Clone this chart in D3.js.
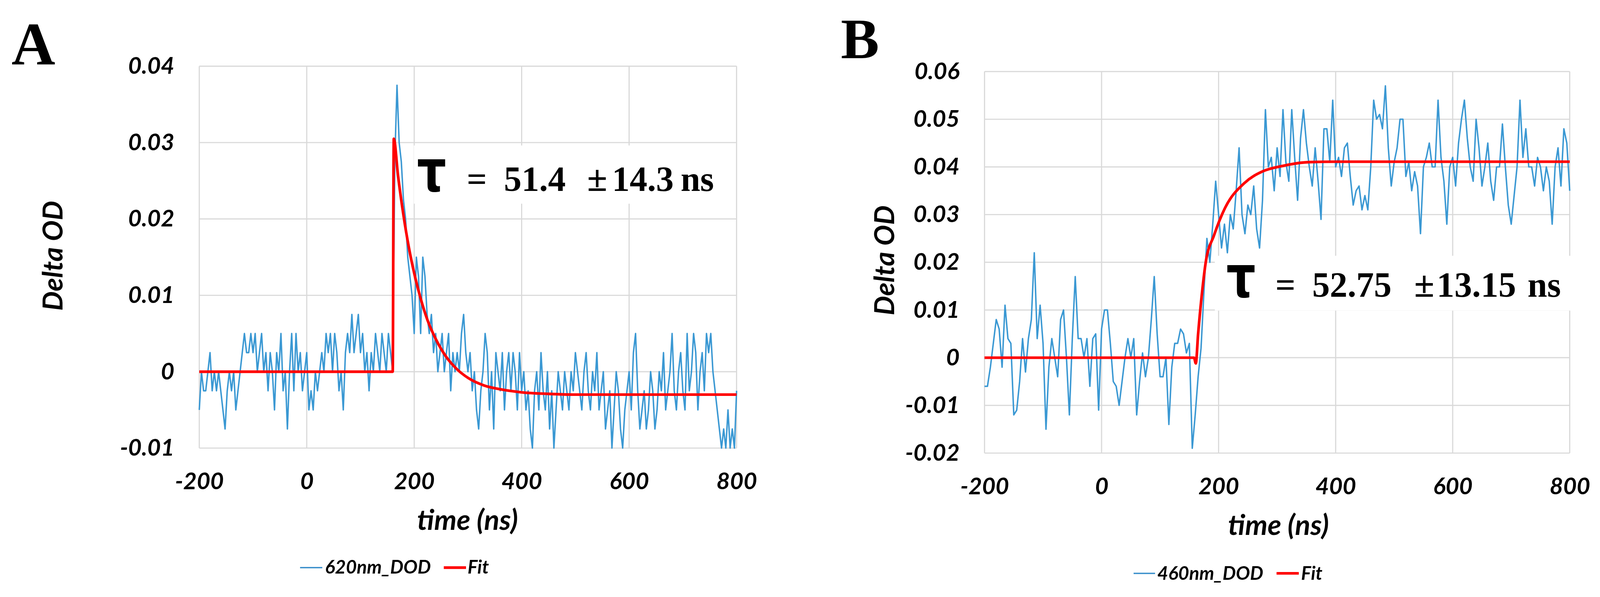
<!DOCTYPE html>
<html>
<head>
<meta charset="utf-8">
<script src="https://cdn.jsdelivr.net/npm/d3@7"></script>
<style>
html, body { margin: 0; padding: 0; background: #fff; overflow: hidden; }
#chart svg { display: block; width: 100vw; height: 100vh; }
svg text { font-family: Lato, "Open Sans", sans-serif; font-weight: bold; font-style: italic; fill: #000; }
</style>
</head>
<body>
<div id="chart"></div>
<script>
const timeTicks = [-200, 0, 200, 400, 600, 800];
const yTicksA = [-0.01, 0, 0.01, 0.02, 0.03, 0.04];
const yTicksB = [-0.02, -0.01, 0, 0.01, 0.02, 0.03, 0.04, 0.05, 0.06];

// 620 nm trace, one point every 4 ns from -200 ns, values in mOD
const start620 = -200, step620 = 4;
const dod620 = [
  -5, 0, -2.5, -2.5, 0, 2.5, -2.5, 0, -2.5, 0, -2.5, -5, -7.5, -2.5, 0, -2.5, 0, -5, -2.5, 0, 2.5, 5, 2.5, 2.5, 5,
  2.5, 5, 0, 2.5, 5, 0, 2.5, -2.5, 2.5, 0, -5, 2.5, 0, 5, -2.5, 0, -7.5, 0, 5, -2.5, 5, 0, 2.5, -2.5, 0,
  2.5, -5, -2.5, -5, 0, -2.5, 0, 2.5, 0, 5, 2.5, 5, 0, 5, 2.5, -2.5, 0, -5, 2.5, 5, 2.5, 7.5, 2.5, 5, 7.5,
  2.5, 5, 0, 2.5, -2.5, 2.5, 0, 5, 2.5, 0, 5, 2.5, 0, 5, 2.5, 0, 28, 37.5, 30, 27.5, 22.5, 20, 15, 12.5, 10,
  5, 15, 12.5, 5, 15, 12.5, 7.5, 5, 7.5, 2.5, 5, 0, 2.5, 5, 0, 2.5, 5, -2.5, 2.5, 0, 2.5, 0, 5, 7.5, 2.5,
  0, 2.5, -2.5, 0, -5, -7.5, -2.5, 0, 5, 2.5, -5, 0, -7.5, 2.5, 0, -2.5, 2.5, -5, 0, 2.5, -2.5, 2.5, 0, -5, 2.5,
  -2.5, 0, -5, -2.5, -7.5, -10, -2.5, 0, -5, 2.5, -2.5, -5, 0, -7.5, -2.5, -10, -5, 0, -2.5, -5, 0, -2.5, -5, 0, -2.5,
  2.5, 0, -2.5, -5, 0, 2.5, -2.5, -5, 0, -2.5, 2.5, -5, -2.5, 0, -7.5, -5, -2.5, -10, -5, 0, -2.5, -7.5, -10, -5, -2.5,
  0, -5, 2.5, 5, -2.5, -7.5, -5, -2.5, -7.5, -5, 0, -2.5, -7.5, -5, 0, -2.5, 2.5, -5, -2.5, 0, 5, -2.5, -5, 0, 2.5,
  -2.5, -5, 5, -2.5, 0, 5, 2.5, -5, 0, 2.5, -2.5, 5, 2.5, 5, 0, -2.5, -5, -7.5, -10, -7.5, -10, -5, -10, -7.5, -10, -2.5
];
const fitTime620 = [-200, 160, 162, 170, 180, 190, 200, 210, 225, 240, 260, 280, 300, 330, 360, 400, 450, 500, 800];
const fit620 = [0, 0, 30.5, 25.6, 20.5, 16.3, 12.9, 10.1, 6.7, 4.3, 1.9, 0.3, -0.8, -1.8, -2.3, -2.7, -2.9, -3, -3];

// 460 nm trace, one point every 5 ns from -200 ns, values in mOD
const start460 = -200, step460 = 5;
const dod460 = [
  -6, -6, -2, 3, 8, 6, -2, 11, 4, 3, -12, -11, -5, 4, -3, 4, 8, 22, 4, 11,
  3, -15, -2, 4, 0, -4, 8, 10, 0, -12, 4, 17, 4, 4, 0, 4, -6, 4, 5, -11,
  6, 10, 10, 3, -5, -6, -10, -5, 0, 4, 0, 4, -12, -5, 1, -4, 0, 8, 17, 5,
  -4, -4, 0, -14, -2, 3, 3, 6, 5, 1, 3, -19, -12, -4, 2, 14, 25, 20, 28, 37,
  30, 23, 28, 22, 30, 27, 35, 44, 30, 26, 32, 30, 36, 27, 23, 33, 52, 40, 42, 35,
  44, 38, 52, 41, 37, 52, 42, 33, 46, 52, 45, 40, 36, 44, 37, 29, 48, 48, 41, 54,
  40, 42, 38, 44, 45, 38, 32, 35, 36, 31, 34, 31, 40, 54, 50, 51, 48, 57, 44, 36,
  41, 44, 50, 50, 38, 41, 35, 39, 36, 26, 40, 42, 45, 40, 40, 54, 42, 37, 28, 40,
  42, 36, 45, 50, 54, 46, 40, 37, 50, 44, 36, 40, 45, 37, 33, 40, 40, 49, 40, 32,
  28, 34, 40, 54, 42, 48, 40, 40, 36, 42, 40, 35, 40, 37, 28, 40, 44, 36, 48, 45, 35
];
const fitTime460 = [-200, 158, 161, 165, 172, 178, 192, 211, 244, 276, 309, 354, 400, 800];
const fit460 = [0, 0, -1.2, 5, 14, 20, 25.6, 31.4, 36.6, 39.1, 40.2, 41, 41.1, 41.1];

const W = 4175, H = 1529;
const svg = d3.select("#chart").append("svg")
    .attr("viewBox", `0 0 ${W} ${H}`)
    .attr("preserveAspectRatio", "xMidYMid meet");
svg.append("rect").attr("width", W).attr("height", H).attr("fill", "#fff");

const panels = [
  {
    letter: "A", letterX: 30, letterY: 153, letterSize: 158,
    left: 520, right: 1922, top: 158, bottom: 1155,
    yDomain: [-0.01, 0.04], yTicks: yTicksA,
    start: start620, step: step620, dod: dod620, fitTime: fitTime620, fit: fit620,
    yTitle: [163, 653], xTitle: [1220, 1368],
    box: [1080, 365, 1915, 517],
    annot: { base: 484, parts: [["τ", 1088, "tau"], ["=", 1218], ["51.4", 1315], ["±", 1532, "pm"], ["14.3", 1597], ["ns", 1776]] },
    legend: { y: 1467, base: 1483, blue: [783, 841], blueText: 848, name: "620nm_DOD", red: [1158, 1216], redText: 1220 }
  },
  {
    letter: "B", letterX: 2194, letterY: 137, letterSize: 150,
    left: 2569, right: 4096, top: 172, bottom: 1168,
    yDomain: [-0.02, 0.06], yTicks: yTicksB,
    start: start460, step: step460, dod: dod460, fitTime: fitTime460, fit: fit460,
    yTitle: [2333, 665], xTitle: [3336, 1382],
    box: [3170, 653, 4102, 796],
    annot: { base: 760, parts: [["τ", 3200, "tau"], ["=", 3328], ["52.75", 3424], ["±", 3690, "pm"], ["13.15", 3749], ["ns", 3986]] },
    legend: { y: 1482, base: 1499, blue: [2958, 3014], blueText: 3020, name: "460nm_DOD", red: [3331, 3389], redText: 3395 }
  }
];

const annotSize = { tau: "150px", pm: "96px" };

panels.forEach(p => {
  const x = d3.scaleLinear().domain([-200, 800]).range([p.left, p.right]);
  const y = d3.scaleLinear().domain(p.yDomain).range([p.bottom, p.top]);
  const g = svg.append("g");

  // gridlines
  g.selectAll(".hgrid").data(p.yTicks).enter().append("line")
      .attr("x1", p.left).attr("x2", p.right)
      .attr("y1", d => y(d)).attr("y2", d => y(d))
      .attr("stroke", "#d9d9d9").attr("stroke-width", 3);
  g.selectAll(".vgrid").data(timeTicks).enter().append("line")
      .attr("x1", d => x(d)).attr("x2", d => x(d))
      .attr("y1", p.top).attr("y2", p.bottom)
      .attr("stroke", "#d9d9d9").attr("stroke-width", 3);

  // white box behind the lifetime label
  g.append("rect")
      .attr("x", p.box[0]).attr("y", p.box[1])
      .attr("width", p.box[2] - p.box[0]).attr("height", p.box[3] - p.box[1])
      .attr("fill", "#fff");

  // axes
  const yAxis = g.append("g").attr("transform", `translate(${p.left},0)`)
      .call(d3.axisLeft(y).tickValues(p.yTicks).tickSize(0).tickPadding(65)
        .tickFormat(d => String(+d.toFixed(2))));
  const xAxis = g.append("g").attr("transform", `translate(0,${p.bottom})`)
      .call(d3.axisBottom(x).tickValues(timeTicks).tickSize(0).tickPadding(64)
        .tickFormat(d => String(d)));
  [yAxis, xAxis].forEach(a => {
    a.select(".domain").remove();
    a.selectAll("text").style("font-size", "61px").attr("fill", "#000");
  });

  // data trace
  const trace = p.dod.map((v, i) => [p.start + i * p.step, v / 1000]);
  g.append("path").datum(trace)
      .attr("fill", "none").attr("stroke", "#3a98d3").attr("stroke-width", 3.8)
      .attr("stroke-linejoin", "round")
      .attr("d", d3.line().x(d => x(d[0])).y(d => y(d[1])));

  // fit
  const fitPts = p.fitTime.map((t, i) => [t, p.fit[i] / 1000]);
  g.append("path").datum(fitPts)
      .attr("fill", "none").attr("stroke", "#ff0000").attr("stroke-width", 7)
      .attr("stroke-linejoin", "round")
      .attr("d", d3.line().curve(d3.curveMonotoneX).x(d => x(d[0])).y(d => y(d[1])));

  // lifetime annotation (tau glyph drawn a little narrower, as in the original)
  p.annot.parts.forEach(([txt, px, kind]) => {
    const t = g.append("text")
        .style("font-family", kind === "tau" ? "'DejaVu Sans', sans-serif" : "'Liberation Serif', 'Times New Roman', serif")
        .style("font-style", "normal").style("font-weight", "bold")
        .style("font-size", annotSize[kind] || "92px")
        .text(txt);
    if (kind === "tau") t.attr("transform", `translate(${px},${p.annot.base}) scale(0.8,1)`);
    else t.attr("x", px).attr("y", p.annot.base);
  });

  // axis titles
  g.append("text")
      .attr("transform", `translate(${p.yTitle[0]},${p.yTitle[1]}) rotate(-90)`)
      .attr("text-anchor", "middle").style("font-size", "72px").text("Delta OD");
  g.append("text")
      .attr("x", p.xTitle[0]).attr("y", p.xTitle[1])
      .attr("text-anchor", "middle").style("font-size", "74px").text("time (ns)");

  // legend
  const L = p.legend;
  g.append("line").attr("x1", L.blue[0]).attr("x2", L.blue[1]).attr("y1", L.y).attr("y2", L.y)
      .attr("stroke", "#3a8fcb").attr("stroke-width", 3.5);
  g.append("text").attr("x", L.blueText).attr("y", L.base).style("font-size", "49px").text(L.name);
  g.append("line").attr("x1", L.red[0]).attr("x2", L.red[1]).attr("y1", L.y).attr("y2", L.y)
      .attr("stroke", "#ff0000").attr("stroke-width", 7);
  g.append("text").attr("x", L.redText).attr("y", L.base).style("font-size", "49px").text("Fit");

  // panel letter
  svg.append("text").attr("x", p.letterX).attr("y", p.letterY)
      .style("font-family", "'Liberation Serif', 'Times New Roman', serif")
      .style("font-style", "normal").style("font-weight", "bold")
      .style("font-size", p.letterSize + "px").text(p.letter);
});
</script>
</body>
</html>
